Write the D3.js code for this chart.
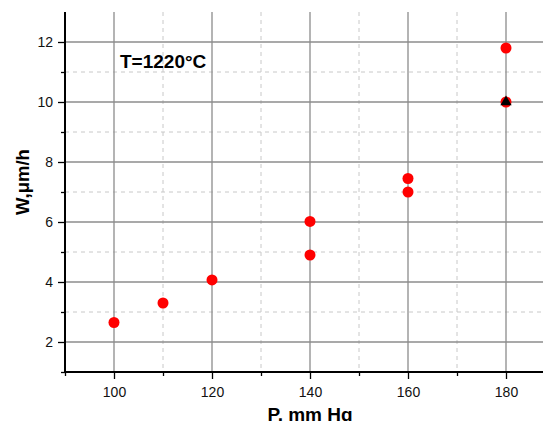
<!DOCTYPE html>
<html><head><meta charset="utf-8">
<script src="https://cdn.jsdelivr.net/npm/d3@7"></script>
<style>body{margin:0;background:#fff}svg{display:block;font-family:"Liberation Sans",Arial,sans-serif}</style>
</head><body><svg id="c" width="543" height="421"></svg>
<script>
const pressure = [100, 110, 120, 140, 140, 160, 160, 180, 180];
const rate = [2.65, 3.3, 4.07, 6.02, 4.9, 7.45, 7.0, 11.8, 10.0];
const triP = [180];
const triW = [10.0];
const xMajor = [100, 120, 140, 160, 180];
const xMinor = [90, 110, 130, 150, 170];
const yMajor = [2, 4, 6, 8, 10, 12];
const yMinor = [1, 3, 5, 7, 9, 11];

const svg = d3.select("#c");
const L = 65, R = 543, T = 12, B = 372;
const x = d3.scaleLinear().domain([90, 90 + (R - L) / 4.9]).range([L, R]);
const y = d3.scaleLinear().domain([1, 13]).range([B, T]);

const g = svg.append("g");
// minor grid (dashed)
g.selectAll(".vmin").data(xMinor.filter(d => d > 90)).join("line")
  .attr("x1", d => x(d)).attr("x2", d => x(d)).attr("y1", T).attr("y2", B)
  .attr("stroke", "#c8c8c8").attr("stroke-dasharray", "4,4").attr("stroke-width", 1);
g.selectAll(".hmin").data(yMinor.filter(d => d > 1)).join("line")
  .attr("x1", L).attr("x2", R).attr("y1", d => y(d)).attr("y2", d => y(d))
  .attr("stroke", "#c8c8c8").attr("stroke-dasharray", "4,4").attr("stroke-width", 1);
// major grid
g.selectAll(".vmaj").data(xMajor).join("line")
  .attr("x1", d => x(d)).attr("x2", d => x(d)).attr("y1", T).attr("y2", B)
  .attr("stroke", "#8c8c8c").attr("stroke-width", 1.3);
g.selectAll(".hmaj").data(yMajor).join("line")
  .attr("x1", L).attr("x2", R).attr("y1", d => y(d)).attr("y2", d => y(d))
  .attr("stroke", "#8c8c8c").attr("stroke-width", 1.3);

// axes
const xAx = svg.append("g").attr("transform", `translate(0,${B})`)
  .call(d3.axisBottom(x).tickValues(xMajor).tickSize(7).tickPadding(8).tickFormat(d3.format("d")));
svg.append("g").attr("transform", `translate(0,${B})`)
  .call(d3.axisBottom(x).tickValues(xMinor).tickSize(4).tickFormat(""))
  .call(a => a.select(".domain").remove());
const yAx = svg.append("g").attr("transform", `translate(${L},0)`)
  .call(d3.axisLeft(y).tickValues(yMajor).tickSize(7).tickPadding(5).tickFormat(d3.format("d")));
svg.append("g").attr("transform", `translate(${L},0)`)
  .call(d3.axisLeft(y).tickValues(yMinor).tickSize(4).tickFormat(""))
  .call(a => a.select(".domain").remove());
svg.selectAll(".domain").attr("stroke", "#000").attr("stroke-width", 2);
svg.selectAll(".tick line").attr("stroke", "#000").attr("stroke-width", 1.3);
svg.selectAll(".tick text").attr("font-size", 14).attr("fill", "#111")
  .attr("font-family", "Liberation Sans, Arial, sans-serif");
xAx.select(".domain").attr("d", `M${L},0H${R}`);
yAx.select(".domain").attr("d", `M0,${T}V${B}`);

// points
const pts = pressure.map((p, i) => ({p, w: rate[i]}));
svg.append("g").selectAll("circle").data(pts).join("circle")
  .attr("cx", d => x(d.p)).attr("cy", d => y(d.w)).attr("r", 5.5).attr("fill", "#ff0000");
svg.append("g").selectAll("path").data(triP.map((p, i) => ({p, w: triW[i]}))).join("path")
  .attr("transform", d => `translate(${x(d.p)},${y(d.w)})`)
  .attr("d", d3.symbol(d3.symbolTriangle, 55)).attr("fill", "#000");

// labels
svg.append("text").attr("x", 120).attr("y", 68).attr("font-size", 19).attr("font-weight", "bold")
  .text("T=1220°C");
svg.append("text").attr("x", 310).attr("y", 420.5).attr("text-anchor", "middle")
  .attr("font-size", 19).attr("font-weight", "bold").text("P, mm Hg");
svg.append("text").attr("transform", "translate(29,182) rotate(-90)").attr("text-anchor", "middle")
  .attr("font-size", 18.5).attr("font-weight", "bold").text("W,μm/h");
</script></body></html>
